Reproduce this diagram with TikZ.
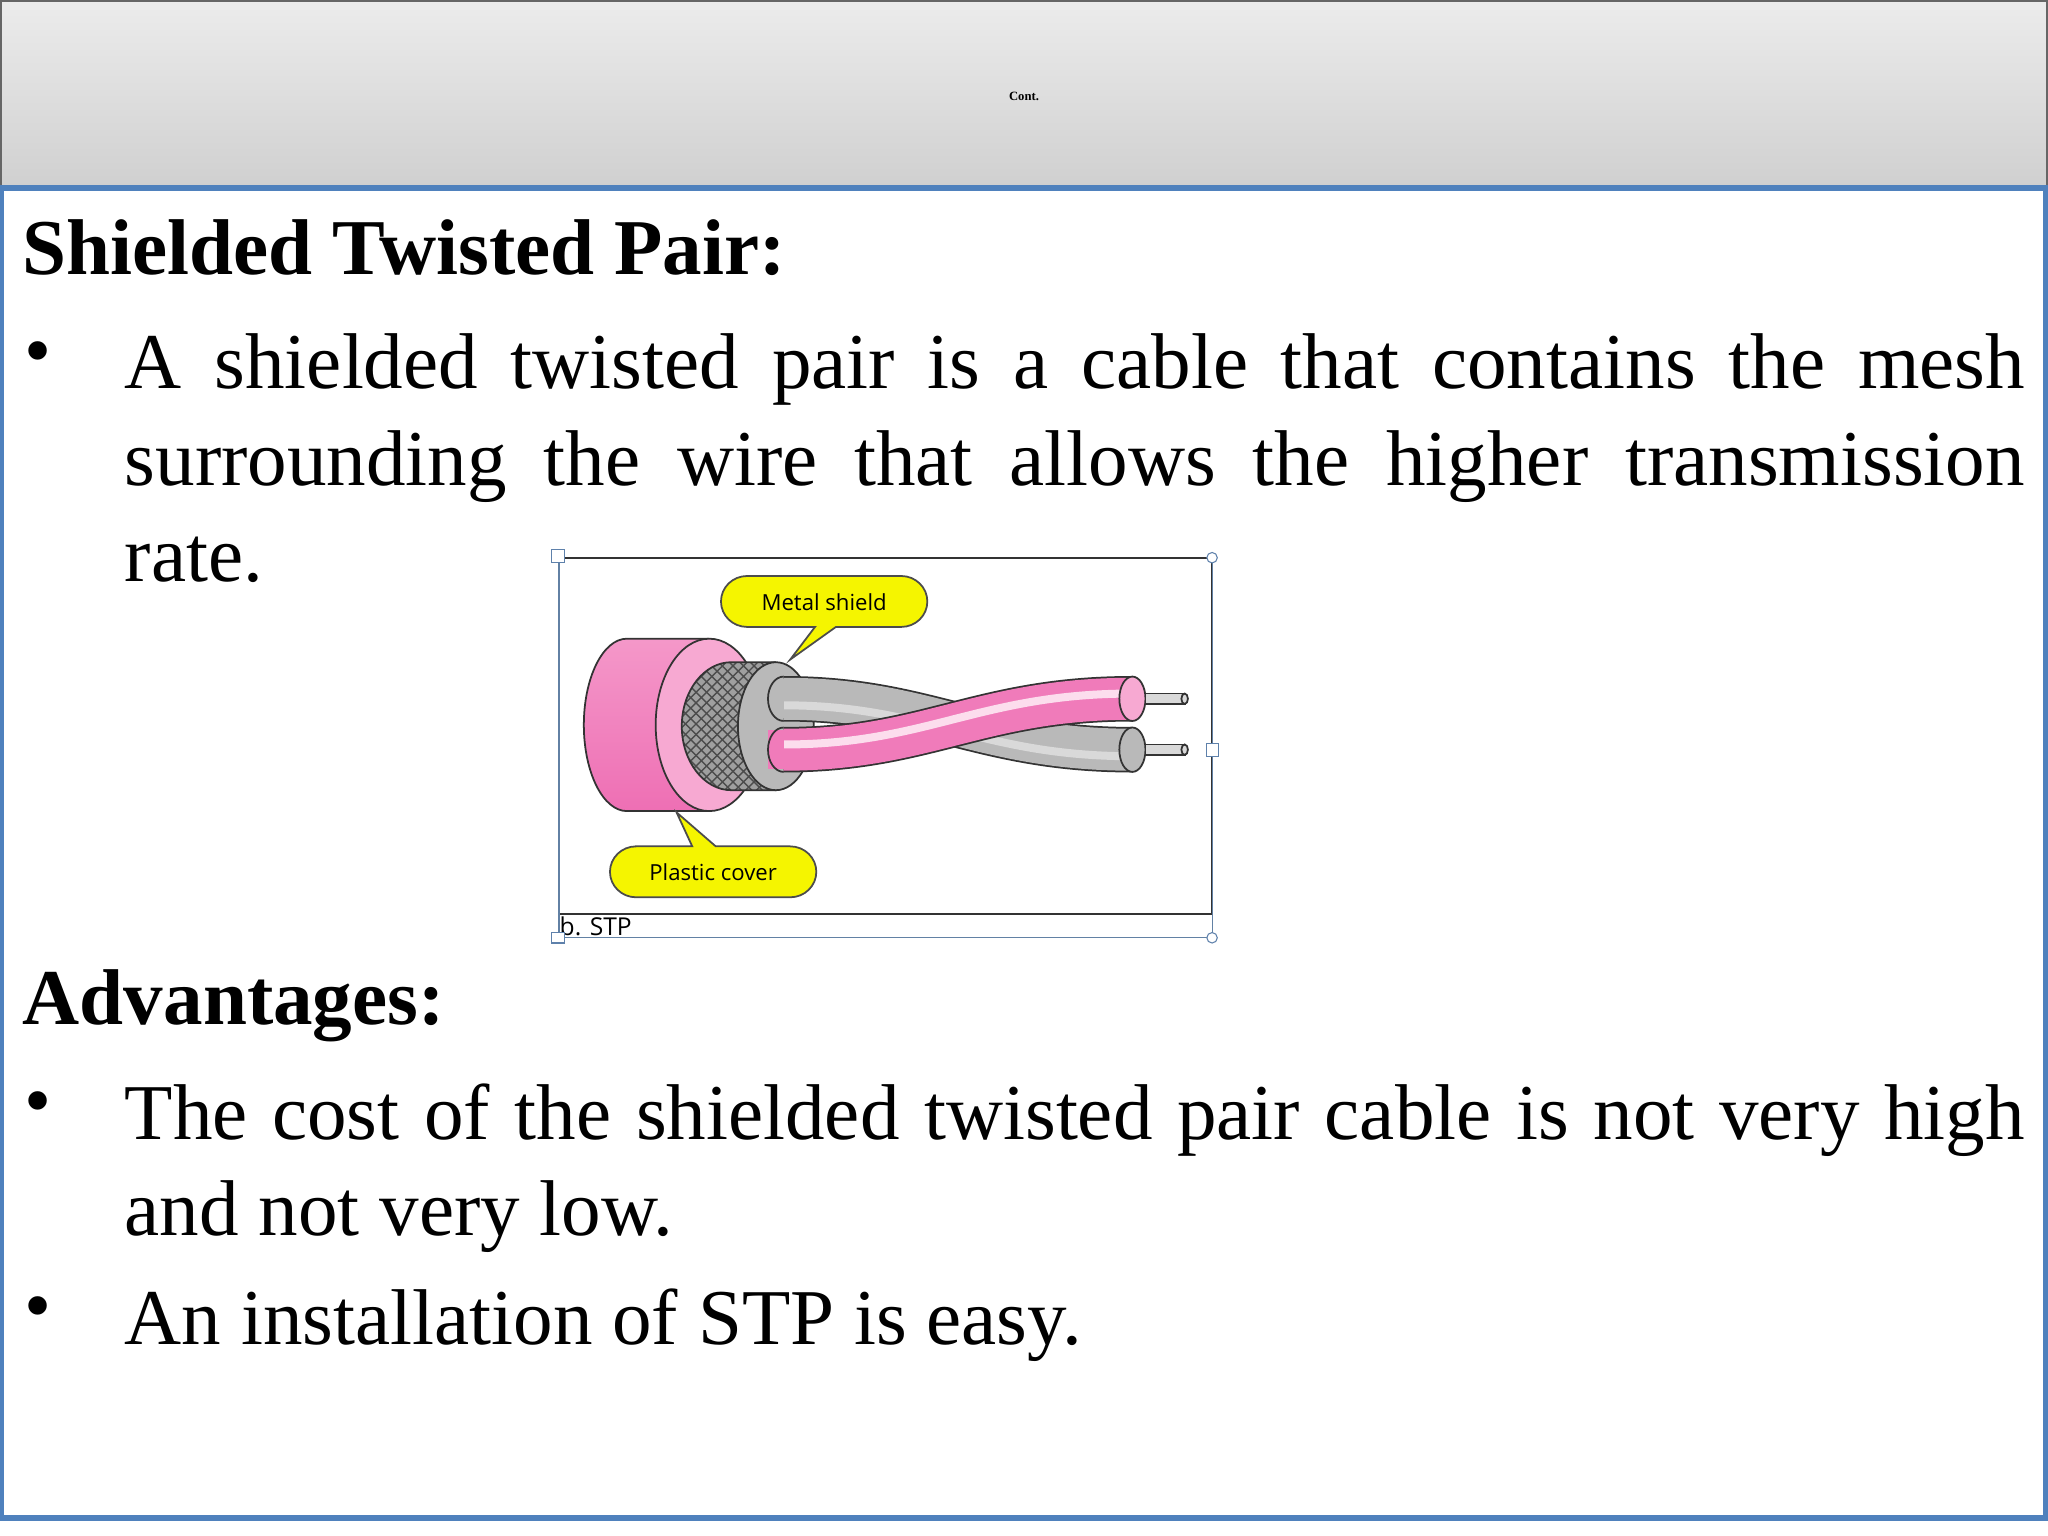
\documentclass[tikz,border=0pt]{standalone}
\usepackage{fontspec}
\setmainfont{Liberation Serif}
\newfontfamily\capfont{Open Sans}
\usetikzlibrary{patterns,shadings}
\definecolor{slideblue}{HTML}{4F81BD}
\definecolor{pinkA}{HTML}{EE6FB4}
\definecolor{pinkB}{HTML}{F7A9D2}
\definecolor{yel}{HTML}{F5F500}
\tikzset{
 body/.style={inner sep=0pt,font=\fontsize{22.5}{27.5}\selectfont},
 para/.style={body,text width=19cm,align=justify,anchor=north west},
 head/.style={inner sep=0pt,anchor=north west,font=\fontsize{22.5}{27}\selectfont\bfseries},
 bul/.style={inner sep=0pt,anchor=center,font=\fontsize{22}{27}\selectfont},
 callout/.style={fill=yel,draw=black!70,line width=0.5pt},
 calltext/.style={font=\capfont\fontsize{6.3}{7}\selectfont,inner sep=0pt},
 handle/.style={draw=slideblue!70!gray,fill=white,line width=0.3pt},
 outl/.style={draw=black!80,line width=0.5pt}
}
\begin{document}
\begin{tikzpicture}[x=0.013061cm,y=-0.013061cm]
\useasboundingbox (0,0) rectangle (1568,1176);
\fill[white] (0,0) rectangle (1568,1176);
% header
\shade[top color=gray!15,bottom color=gray!37] (0,0) rectangle (1568,143);
\draw[black!60,line width=0.5pt] (0.5,0.5) rectangle (1567.5,143);
\node[font=\fontsize{3.6}{4}\selectfont\bfseries,inner sep=0pt] (cont) at (784,74) {Cont.};
% blue frame
\draw[slideblue,line width=1.6pt] (1,144) -- (1,1162) -- (1566,1162) -- (1566,144) -- cycle;
% texts
\node[head] (h1) at (17,168) {Shielded Twisted Pair:};
\node[bul] (b1) at (29,275) {•};
\node[para] (p1) at (95,255) {A shielded twisted pair is a cable that contains the mesh\linebreak surrounding the wire that allows the higher transmission\linebreak rate.};
\node[head] (h2) at (17,742) {Advantages:};
\node[bul] (b2) at (29,849) {•};
\node[para] (p2) at (95,829) {The cost of the shielded twisted pair cable is not very high\linebreak and not very low.};
\node[bul] (b3) at (29,1006) {•};
\node[para] (p3) at (95,986) {An installation of STP is easy.};
% image frame
\draw[black!80,line width=0.6pt] (428,427) rectangle (928,700);
\draw[slideblue!60!gray,line width=0.3pt] (428,427) -- (428,718) -- (928,718) -- (928,427);
\node[calltext,anchor=south west,font=\capfont\fontsize{7}{8}\selectfont] (cap) at (428,717) {b. STP};
\draw[handle] (422,421) rectangle (432,431);
\draw[handle] (928,427) circle (4);
\draw[handle] (924,569) rectangle (933,579);
\draw[handle] (928,718) circle (4);
\draw[handle] (422,714) rectangle (432,722);
% outer plastic cylinder
\shade[top color=pinkB!70!pinkA,bottom color=pinkA] (480,489) arc (270:90:33 and 66) -- (543,621) -- (543,489) -- cycle;
\draw[outl] (543,489) -- (480,489) arc (270:90:33 and 66) -- (543,621);
\filldraw[fill=pinkB,outl] (543,555) ellipse (41 and 66);
% mesh shield
\fill[gray!75] (560,507) arc (270:90:38 and 49) -- (594,605) -- (594,507) -- cycle;
\fill[pattern=crosshatch,pattern color=black!70] (560,507) arc (270:90:38 and 49) -- (594,605) -- (594,507) -- cycle;
\draw[outl] (594,507) -- (560,507) arc (270:90:38 and 49) -- (594,605);
\filldraw[fill=gray!55,outl] (594,556) ellipse (29 and 49);
% gray wire (behind)
\draw[black!80,line width=0.455cm] (600,535) .. controls (710,535) and (750,574) .. (867,574);
\draw[gray!55,line width=0.42cm] (600,535) .. controls (710,535) and (750,574) .. (867,574);
\draw[white!70!gray,line width=0.08cm] (600,540) .. controls (710,540) and (750,579) .. (867,579);
\fill[gray!55] (588,520) rectangle (600,550);
\draw[black!80,line width=0.5pt] (600,518) arc (270:90:12 and 17);
\filldraw[fill=gray!55,outl] (867,574) ellipse (10 and 17);
\filldraw[fill=gray!30,outl] (877,570) rectangle (907,578);
\filldraw[fill=gray!30,outl] (907,574) ellipse (2.5 and 4);
% pink wire (front)
\draw[black!80,line width=0.455cm] (600,574) .. controls (710,574) and (750,535) .. (867,535);
\draw[pinkA!80!pinkB,line width=0.42cm] (600,574) .. controls (710,574) and (750,535) .. (867,535);
\draw[white!60!pinkB,line width=0.08cm] (600,570) .. controls (710,570) and (750,531) .. (867,531);
\fill[pinkA!80!pinkB] (588,559) rectangle (600,589);
\draw[black!80,line width=0.5pt] (600,557) arc (270:90:12 and 17);
\filldraw[fill=pinkB,outl] (867,535) ellipse (10 and 17);
\filldraw[fill=gray!30,outl] (877,531) rectangle (907,539);
\filldraw[fill=gray!30,outl] (907,535) ellipse (2.5 and 4);
% callouts
\filldraw[callout] (572,441) -- (690,441) arc (-90:90:20 and 19.5) -- (640,480) -- (605,505) -- (624,480) -- (572,480) arc (90:270:20 and 19.5) -- cycle;
\node[calltext] (ms) at (631,461) {Metal shield};
\filldraw[callout] (487,648) -- (530,648) -- (518,622) -- (548,648) -- (605,648) arc (-90:90:20 and 19.5) -- (487,687) arc (90:270:20 and 19.5) -- cycle;
\node[calltext] (pc) at (546,668) {Plastic cover};
\end{tikzpicture}
\end{document}
